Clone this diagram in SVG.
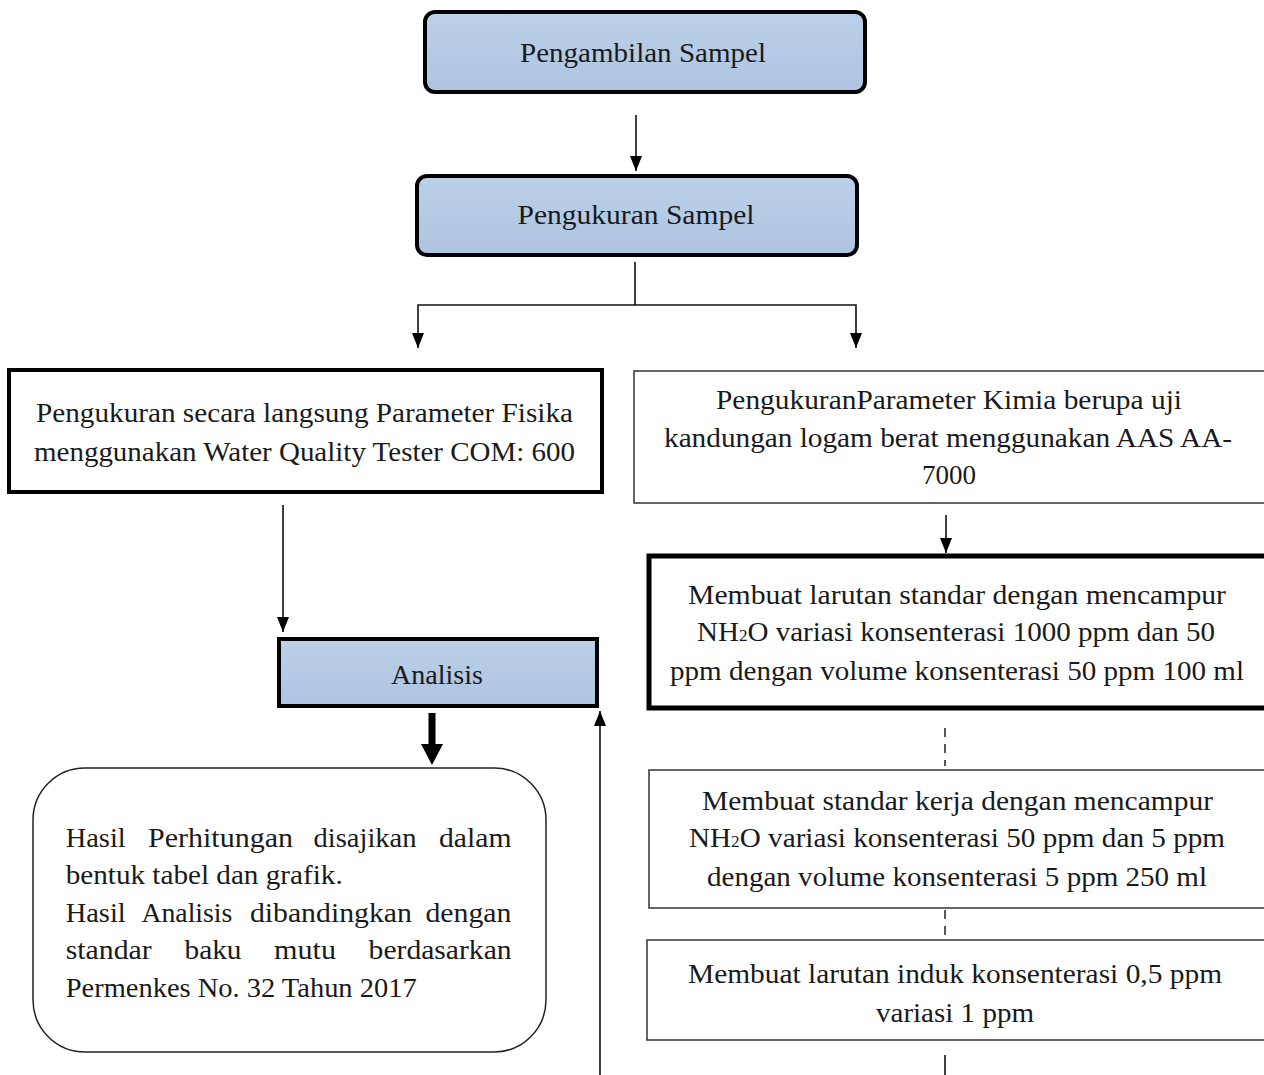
<svg xmlns="http://www.w3.org/2000/svg" width="1264" height="1075" viewBox="0 0 1264 1075">
<style>
  text { font-family: "Liberation Serif", "Times New Roman", serif; font-size: 27px; fill: #1a1a1a; }
  .c { text-anchor: middle; }
  .blue { fill: url(#bg); stroke: #000; stroke-width: 4; }
  .thick { fill: #fff; stroke: #000; stroke-width: 4; }
  .thin { fill: #fff; stroke: #333; stroke-width: 1.5; }
  .ln { stroke: #111; stroke-width: 1.6; fill: none; }
  .dash { stroke: #111; stroke-width: 1.4; fill: none; stroke-dasharray: 9 7; }
  .sub { font-size: 16px; }
</style>
<defs>
  <linearGradient id="bg" x1="0" y1="0" x2="0" y2="1">
    <stop offset="0" stop-color="#bcd0e8"/>
    <stop offset="1" stop-color="#aec4e0"/>
  </linearGradient>
  <marker id="ah" viewBox="0 0 15 12" refX="15" refY="6" markerWidth="15" markerHeight="12" markerUnits="userSpaceOnUse" orient="auto-start-reverse">
    <path d="M0,0 L15,6 L0,12 Z" fill="#000"/>
  </marker>
</defs>
<rect width="1264" height="1075" fill="#fff"/>

<g id="connectors">
  <line class="ln" x1="636" y1="115" x2="636" y2="171" marker-end="url(#ah)"/>
  <line class="ln" x1="635" y1="262" x2="635" y2="305"/>
  <polyline class="ln" points="418,348 418,305 856,305 856,348" marker-start="url(#ah)" marker-end="url(#ah)"/>
  <line class="ln" x1="283" y1="505" x2="283" y2="632" marker-end="url(#ah)"/>
  <polygon points="428.5,713 435.5,713 435.5,744 443,744 432,765 421,744 428.5,744" fill="#000"/>
  <line class="ln" x1="600" y1="1075" x2="600" y2="711" marker-end="url(#ah)"/>
  <line class="ln" x1="946" y1="515" x2="946" y2="553" marker-end="url(#ah)"/>
  <line class="dash" x1="945" y1="728" x2="945" y2="766"/>
  <line class="dash" x1="945" y1="910" x2="945" y2="938"/>
  <line class="ln" x1="945" y1="1055" x2="945" y2="1075"/>
</g>

<g id="pengambilan">
  <rect class="blue" x="425" y="12" width="440" height="80" rx="10"/>
  <text class="c" x="643" y="62" textLength="246" lengthAdjust="spacingAndGlyphs">Pengambilan Sampel</text>
</g>
<g id="pengukuran">
  <rect class="blue" x="417" y="176" width="440" height="79" rx="10"/>
  <text class="c" x="636" y="224" textLength="237" lengthAdjust="spacingAndGlyphs">Pengukuran Sampel</text>
</g>
<g id="fisika">
  <rect class="thick" x="9" y="370" width="593" height="122"/>
  <text class="c" x="304.5" y="422" textLength="537" lengthAdjust="spacingAndGlyphs">Pengukuran secara langsung Parameter Fisika</text>
  <text class="c" x="304.5" y="461" textLength="541" lengthAdjust="spacingAndGlyphs">menggunakan Water Quality Tester COM: 600</text>
</g>
<g id="kimia">
  <rect class="thin" x="634" y="371" width="640" height="132"/>
  <text class="c" x="949" y="409" textLength="466" lengthAdjust="spacingAndGlyphs">PengukuranParameter Kimia berupa uji</text>
  <text class="c" x="948" y="447" textLength="568" lengthAdjust="spacingAndGlyphs">kandungan logam berat menggunakan AAS AA-</text>
  <text class="c" x="949" y="484" textLength="54" lengthAdjust="spacingAndGlyphs">7000</text>
</g>
<g id="larutan-standar">
  <rect x="649" y="556" width="625" height="152" fill="#fff" stroke="#000" stroke-width="5"/>
  <text class="c" x="957" y="604" textLength="538" lengthAdjust="spacingAndGlyphs">Membuat larutan standar dengan mencampur</text>
  <text class="c" x="956" y="641" textLength="518" lengthAdjust="spacingAndGlyphs">NH<tspan class="sub">2</tspan>O variasi konsenterasi 1000 ppm dan 50</text>
  <text class="c" x="957" y="680" textLength="574" lengthAdjust="spacingAndGlyphs">ppm dengan volume konsenterasi 50 ppm 100 ml</text>
</g>
<g id="standar-kerja">
  <rect class="thin" x="649" y="770" width="625" height="138"/>
  <text class="c" x="957.5" y="810" textLength="511" lengthAdjust="spacingAndGlyphs">Membuat standar kerja dengan mencampur</text>
  <text class="c" x="957" y="847" textLength="536" lengthAdjust="spacingAndGlyphs">NH<tspan class="sub">2</tspan>O variasi konsenterasi 50 ppm dan 5 ppm</text>
  <text class="c" x="957" y="886" textLength="500" lengthAdjust="spacingAndGlyphs">dengan volume konsenterasi 5 ppm 250 ml</text>
</g>
<g id="larutan-induk">
  <rect class="thin" x="647" y="940" width="627" height="100"/>
  <text class="c" x="955" y="983" textLength="534" lengthAdjust="spacingAndGlyphs">Membuat larutan induk konsenterasi 0,5 ppm</text>
  <text class="c" x="955" y="1022" textLength="158" lengthAdjust="spacingAndGlyphs">variasi 1 ppm</text>
</g>
<g id="analisis">
  <rect class="blue" x="279" y="639" width="318" height="67"/>
  <text class="c" x="437" y="684" textLength="92" lengthAdjust="spacingAndGlyphs">Analisis</text>
</g>
<g id="hasil">
  <rect x="33" y="768" width="513" height="284" rx="52" fill="#fff" stroke="#222" stroke-width="1.5"/>
  <text x="65.7" y="847" textLength="60" lengthAdjust="spacingAndGlyphs">Hasil</text>
  <text x="148" y="847" textLength="145" lengthAdjust="spacingAndGlyphs">Perhitungan</text>
  <text x="313.5" y="847" textLength="103" lengthAdjust="spacingAndGlyphs">disajikan</text>
  <text x="439" y="847" textLength="72.5" lengthAdjust="spacingAndGlyphs">dalam</text>
  <text x="65.7" y="884" textLength="277" lengthAdjust="spacingAndGlyphs">bentuk tabel dan grafik.</text>
  <text x="65.7" y="922" textLength="60" lengthAdjust="spacingAndGlyphs">Hasil</text>
  <text x="141.4" y="922" textLength="91" lengthAdjust="spacingAndGlyphs">Analisis</text>
  <text x="249.9" y="922" textLength="162" lengthAdjust="spacingAndGlyphs">dibandingkan</text>
  <text x="425.4" y="922" textLength="86" lengthAdjust="spacingAndGlyphs">dengan</text>
  <text x="65.7" y="959" textLength="86" lengthAdjust="spacingAndGlyphs">standar</text>
  <text x="184.5" y="959" textLength="57" lengthAdjust="spacingAndGlyphs">baku</text>
  <text x="274" y="959" textLength="62" lengthAdjust="spacingAndGlyphs">mutu</text>
  <text x="368.6" y="959" textLength="143" lengthAdjust="spacingAndGlyphs">berdasarkan</text>
  <text x="65.7" y="997" textLength="351" lengthAdjust="spacingAndGlyphs">Permenkes No. 32 Tahun 2017</text>
</g>
</svg>
